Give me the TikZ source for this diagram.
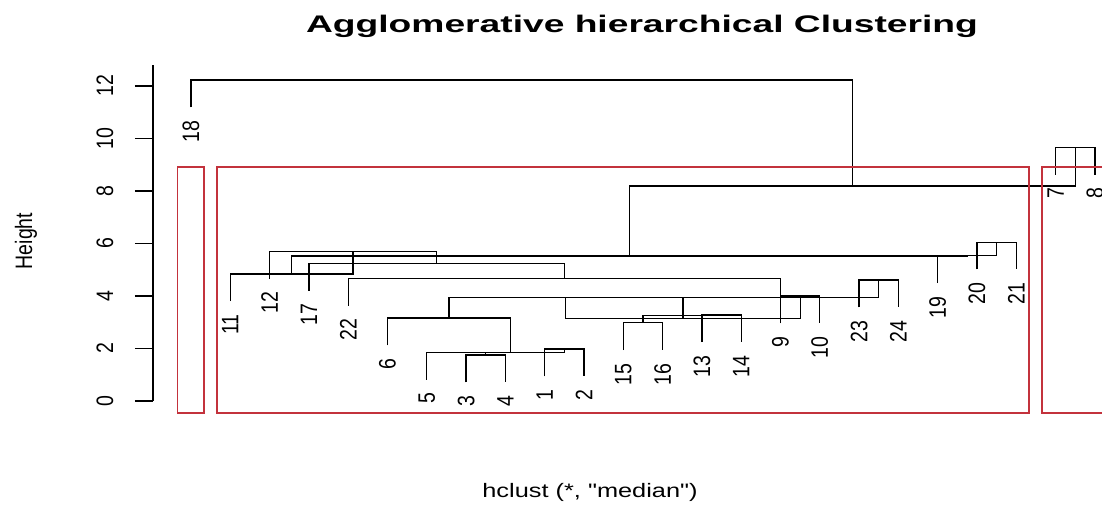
\documentclass[tikz,border=0pt]{standalone}
\usepackage{fontspec}
\setmainfont{Liberation Sans}[Ligatures=TeXOff]
\definecolor{clusterred}{RGB}{195,50,60}
\tikzset{
	branch/.style={line width=1.3pt},
	leaflabel/.style={xscale=1.22, rotate=90, anchor=east, inner sep=0pt, font=\fontsize{19.5}{20}\selectfont},
	ticklabel/.style={xscale=1.22, rotate=90, inner sep=0pt, font=\fontsize{19.5}{20}\selectfont},
	clusterbox/.style={draw=clusterred, line width=1.6pt},
}

\begin{document}
\begin{tikzpicture}[x=39.3pt, y=26.25pt]
		%%%%% START %%%%%
		\useasboundingbox (-3.86,-4.914) rectangle (24.181,15.276);
		\clip (-3.86,-4.914) rectangle (24.181,15.276);
		
		\node[font=\fontsize{24}{26}\bfseries\selectfont, xscale=1.55, inner sep=0pt] (title) at (12.476,14.286) {Agglomerative hierarchical Clustering};
		\node[font=\fontsize{19.5}{20}\selectfont, xscale=1.3, inner sep=0pt] (sub) at (11.153,-3.467) {hclust (*, "median")};
		\node[ticklabel] (ylab) at (-3.2,6.095) {Height};
		
		% axis
		\draw[line width=1.3pt] (0.033,0) -- (0.033,12.8);
		\foreach \v in {0,2,...,12} {
			\draw[line width=1.3pt] (-0.425,\v) -- (0.033,\v);
			\node[ticklabel] (tick\v) at (-1.19,\v) {\v};
		}
		
		% leaves: position / label / lower end
		\foreach \p/\lab/\b in {1/18/11.19, 2/11/3.80, 3/12/4.66, 4/17/4.20, 5/22/3.63, 6/6/2.12,
				7/5/0.81, 8/3/0.71, 9/4/0.71, 10/1/0.94, 11/2/0.94, 12/15/1.94, 13/16/1.94,
				14/13/2.24, 15/14/2.24, 16/9/2.96, 17/10/2.96, 18/23/3.57, 19/24/3.57,
				20/19/4.49, 21/20/5.01, 22/21/5.01, 23/7/8.62, 24/8/8.62} {
			\coordinate (l\lab) at (\p,\b);
			\node[leaflabel] (n\lab) at (\p,\b-0.5) {\lab};
		}
		
		% merges
		\coordinate (m34) at (8.5,1.75);
		\draw[branch] (l3) |- (m34) -| (l4);
		\coordinate (m5) at (7.75,1.85);
		\draw[branch] (l5) |- (m5) -| (m34);
		\coordinate (m12) at (10.5,1.98);
		\draw[branch] (l1) |- (m12) -| (l2);
		\coordinate (m1to5) at (9.125,1.84);
		\draw[branch] (m5) |- (m1to5) -| (m12);
		\coordinate (m6) at (7.5625,3.16);
		\draw[branch] (l6) |- (m6) -| (m1to5);
		
		\coordinate (m1516) at (12.5,2.98);
		\draw[branch] (l15) |- (m1516) -| (l16);
		\coordinate (m1314) at (14.5,3.28);
		\draw[branch] (l13) |- (m1314) -| (l14);
		\coordinate (m13to16) at (13.5,3.25);
		\draw[branch] (m1516) |- (m13to16) -| (m1314);
		\coordinate (my) at (10.53125,3.95);
		\draw[branch] (m6) |- (my) -| (m13to16);
		
		\coordinate (m910) at (16.5,4.00);
		\draw[branch] (l9) |- (m910) -| (l10);
		\coordinate (mg) at (13.515625,3.15);
		\draw[branch] (my) |- (mg) -| (m910);
		\coordinate (m2324) at (18.5,4.61);
		\draw[branch] (l23) |- (m2324) -| (l24);
		\coordinate (mo) at (16.0078125,3.95);
		\draw[branch] (mg) |- (mo) -| (m2324);
		\coordinate (m22) at (10.50390625,4.67);
		\draw[branch] (l22) |- (m22) -| (mo);
		\coordinate (m17) at (7.251953,5.24);
		\draw[branch] (l17) |- (m17) -| (m22);
		\coordinate (mw) at (5.125977,5.70);
		\draw[branch] (l12) |- (mw) -| (m17);
		\coordinate (m11) at (3.562988,4.84);
		\draw[branch] (l11) |- (m11) -| (mw);
		
		\coordinate (m2021) at (21.5,6.05);
		\draw[branch] (l20) |- (m2021) -| (l21);
		\coordinate (m19) at (20.75,5.53);
		\draw[branch] (l19) |- (m19) -| (m2021);
		\coordinate (mbig) at (12.156494,5.52);
		\draw[branch] (m11) |- (mbig) -| (m19);
		
		\coordinate (m78) at (23.5,9.66);
		\draw[branch] (l7) |- (m78) -| (l8);
		\coordinate (m78b) at (17.828247,8.19);
		\draw[branch] (mbig) |- (m78b) -| (m78);
		\coordinate (mroot) at (9.414124,12.23);
		\draw[branch] (l18) |- (mroot) -| (m78b);
		
		% k = 3 boxes
		\draw[clusterbox] (0.66,-0.45) rectangle (1.33,8.925);
		\draw[clusterbox] (1.66,-0.45) rectangle (22.33,8.925);
		\draw[clusterbox] (22.66,-0.45) rectangle (24.33,8.925);
		%%%%% END %%%%%
\end{tikzpicture}
\end{document}
